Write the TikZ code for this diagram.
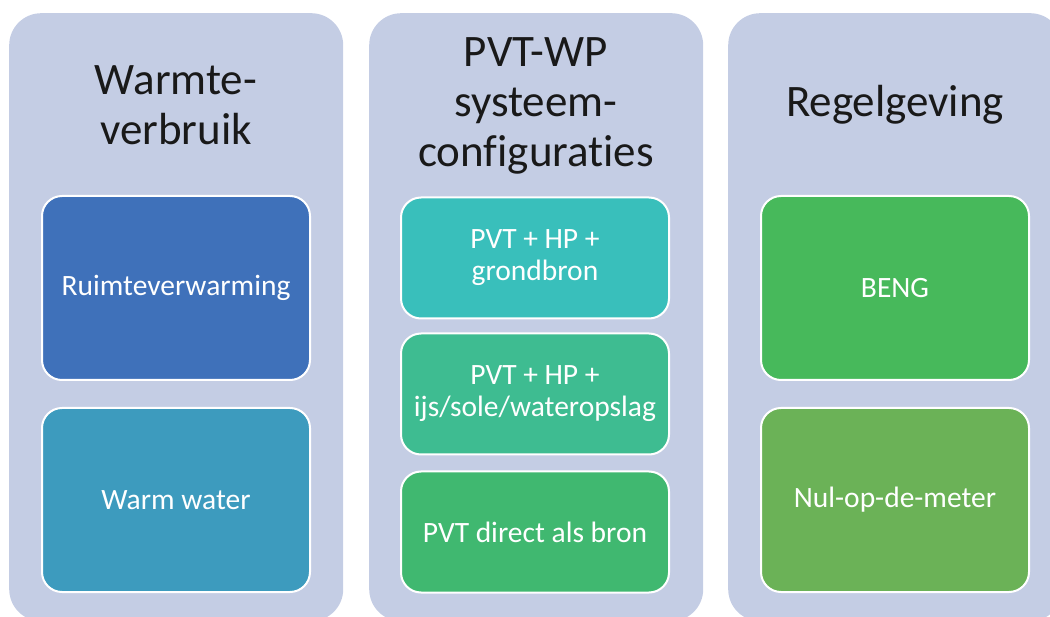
\documentclass[tikz,border=0pt]{standalone}
\usepackage{fontspec}
\setmainfont[Ligatures=CommonOff]{Carlito}
\usepackage{xcolor}
\usetikzlibrary{positioning}

\definecolor{panelbg}{HTML}{C4CDE4}
\definecolor{ruimtec}{HTML}{3F71BA}
\definecolor{waterc}{HTML}{3D9BBE}
\definecolor{grondc}{HTML}{39BFBB}
\definecolor{opslagc}{HTML}{3EBC91}
\definecolor{directc}{HTML}{40B870}
\definecolor{bengc}{HTML}{47B95B}
\definecolor{nulc}{HTML}{6BB257}

\begin{document}
\begin{tikzpicture}[x=1pt, y=-1pt,
    panel/.style={fill=panelbg, rounded corners=32pt, inner sep=0pt, minimum width=334pt, minimum height=608pt, anchor=north west},
    heading/.style={align=center, text=black!90, font=\fontsize{45}{50}\selectfont},
    item/.style={draw=white, line width=2pt, rounded corners=20pt, text=white, align=center, minimum width=268pt, font=\fontsize{29.5}{32}\selectfont},
    tall/.style={item, minimum height=184pt},
    short/.style={item, minimum height=121pt}]
    \useasboundingbox (0,0) rectangle (1050,617);
    \clip (0,0) rectangle (1050,617);

    % three panels
    \node[panel] (verbruik) at (9,13) {};
    \node[panel] (systemen) at (369,13) {};
    \node[panel] (regels) at (728,13) {};

    \node[heading] (verbruiktitel) at (176,105) {Warmte-\\verbruik};
    \node[heading] (systementitel) at (536,106) {PVT-WP\\systeem-\\configuraties};
    \node[heading] (regelstitel) at (895,105) {Regelgeving};

    % warmteverbruik
    \node[tall, fill=ruimtec] (ruimte) at (176,288) {Ruimteverwarming};
    \node[tall, fill=waterc] (water) at (176,500) {Warm water};

    % systeemconfiguraties
    \node[short, fill=grondc] (grond) at (535,258) {PVT + HP +\\grondbron};
    \node[short, fill=opslagc] (opslag) at (535,394) {PVT + HP +\\ijs/sole/wateropslag};
    \node[short, fill=directc] (direct) at (535,532) {PVT direct als bron};

    % regelgeving
    \node[tall, fill=bengc] (beng) at (895,288) {BENG};
    \node[tall, fill=nulc] (nul) at (895,500) {Nul-op-de-meter};
\end{tikzpicture}
\end{document}
